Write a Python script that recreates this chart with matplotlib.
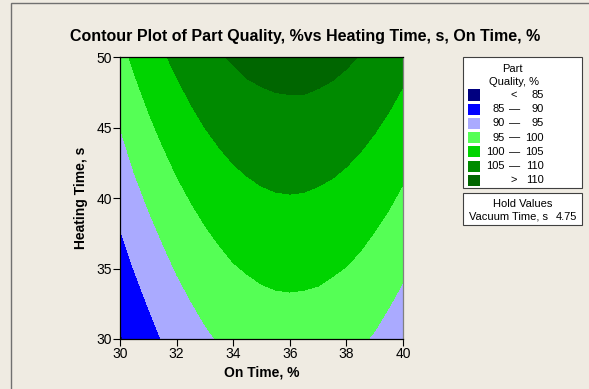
import matplotlib
matplotlib.use("Agg")
import matplotlib.pyplot as plt
import matplotlib.patches as patches
import numpy as np

# ---- data ----
on_time = [30, 30.5, 31, 31.5, 32, 32.5, 33, 33.5, 34, 34.5, 35,
           35.5, 36, 36.5, 37, 37.5, 38, 38.5, 39, 39.5, 40]
heating_time = [30, 35, 40, 45, 50]
# part quality, % (rows: heating time, cols: on time)
quality = [
    [84.6, 86.5, 88.4, 90.2, 91.7, 93.1, 94.3, 95.3, 96.1, 96.7, 97.2,
     97.5, 97.6, 97.5, 97.3, 96.9, 96.3, 95.5, 94.6, 93.4, 92.1],
    [88.1, 90.1, 92.0, 93.7, 95.3, 96.6, 97.8, 98.8, 99.7, 100.3, 100.8,
     101.1, 101.2, 101.1, 100.9, 100.4, 99.9, 99.1, 98.1, 97.0, 95.7],
    [91.5, 93.7, 95.6, 97.3, 98.9, 100.2, 101.4, 102.4, 103.3, 103.9, 104.4,
     104.7, 104.8, 104.7, 104.4, 104.0, 103.4, 102.7, 101.7, 100.6, 99.3],
    [95.0, 97.3, 99.2, 100.9, 102.4, 103.8, 105.0, 106.0, 106.8, 107.5, 107.9,
     108.2, 108.3, 108.3, 108.0, 107.6, 107.0, 106.2, 105.3, 104.2, 102.9],
    [98.6, 100.8, 102.7, 104.5, 106.0, 107.4, 108.6, 109.6, 110.4, 111.1, 111.5,
     111.8, 111.9, 111.9, 111.6, 111.2, 110.6, 109.8, 108.9, 107.8, 106.5],
]
levels = [80, 85, 90, 95, 100, 105, 110, 115]
level_colors = ['#000080', '#0000ff', '#aaaaff', '#55ff55', '#00d400', '#008a00', '#006600']
legend_left = ['<', '85', '90', '95', '100', '105', '>']
legend_right = ['85', '90', '95', '100', '105', '110', '110']
hold_name = 'Vacuum Time, s'
hold_value = '4.75'

W, H = 589, 389
bg = '#efebe2'
plt.rcParams['font.family'] = ['Liberation Sans', 'DejaVu Sans']


def fx(px):
    return px / W


def fy(py):
    return 1 - py / H


fig = plt.figure(figsize=(W / 100, H / 100), dpi=100)
fig.patch.set_facecolor(bg)

# frame around the graph region (only left/top visible in the reference)
fig.add_artist(patches.Rectangle((fx(10.5), fy(420)), 1.2, fy(3.5) - fy(420),
                                 transform=fig.transFigure, fill=False,
                                 edgecolor='#707070', linewidth=1.0))

ax = fig.add_axes([fx(120), fy(339), fx(403) - fx(120), fy(57.3) - fy(339)])
X, Y = np.meshgrid(on_time, heating_time)
ax.contourf(X, Y, np.array(quality), levels=levels, colors=level_colors)
ax.set_xlim(30, 40)
ax.set_ylim(30, 50)
ax.set_xticks(range(30, 41, 2))
ax.set_yticks(range(30, 51, 5))
ax.tick_params(direction='out', length=5, width=0.8, labelsize=10, pad=1,
               top=False, right=False)
for s in ax.spines.values():
    s.set_linewidth(0.9)
ax.spines['right'].set_color('#808080')
ax.set_xlabel('On Time, %', fontsize=10, fontweight='bold', labelpad=3)
ax.set_ylabel('Heating Time, s', fontsize=10, fontweight='bold', labelpad=6)

fig.text(fx(305), fy(37), 'Contour Plot of Part Quality, %vs Heating Time, s, On Time, %',
         ha='center', va='center', fontsize=11.5, fontweight='bold')

# legend box
fs = 8
fig.add_artist(patches.Rectangle((fx(462.7), fy(188.3)), fx(581.7) - fx(462.7),
                                 fy(57.3) - fy(188.3), transform=fig.transFigure,
                                 facecolor='white', edgecolor='#404040', linewidth=0.8))
fig.text(fx(512), fy(68.5), 'Part', ha='center', va='center', fontsize=fs)
fig.text(fx(514), fy(82), 'Quality, %', ha='center', va='center', fontsize=fs)
for i, c in enumerate(level_colors):
    yc = 95 + i * 14.2
    fig.add_artist(patches.Rectangle((fx(467.7), fy(yc + 5.5)), fx(480) - fx(467.7),
                                     fy(yc - 5.5) - fy(yc + 5.5),
                                     transform=fig.transFigure, facecolor=c,
                                     edgecolor='none'))
    if legend_left[i] in ('<', '>'):
        fig.text(fx(514), fy(yc), legend_left[i], ha='center', va='center', fontsize=fs)
    else:
        fig.text(fx(505), fy(yc), legend_left[i], ha='right', va='center', fontsize=fs)
        fig.text(fx(515), fy(yc), '\u2014', ha='center', va='center', fontsize=fs)
    fig.text(fx(544), fy(yc), legend_right[i], ha='right', va='center', fontsize=fs)

# hold values box
fig.add_artist(patches.Rectangle((fx(462.7), fy(225)), fx(581.7) - fx(462.7),
                                 fy(192.7) - fy(225), transform=fig.transFigure,
                                 facecolor='white', edgecolor='#404040', linewidth=0.8))
fig.text(fx(523), fy(204), 'Hold Values', ha='center', va='center', fontsize=fs)
fig.text(fx(469), fy(216.5), hold_name, ha='left', va='center', fontsize=fs)
fig.text(fx(577), fy(216.5), hold_value, ha='right', va='center', fontsize=fs)

fig.savefig('out.png', dpi=100, facecolor=bg)
